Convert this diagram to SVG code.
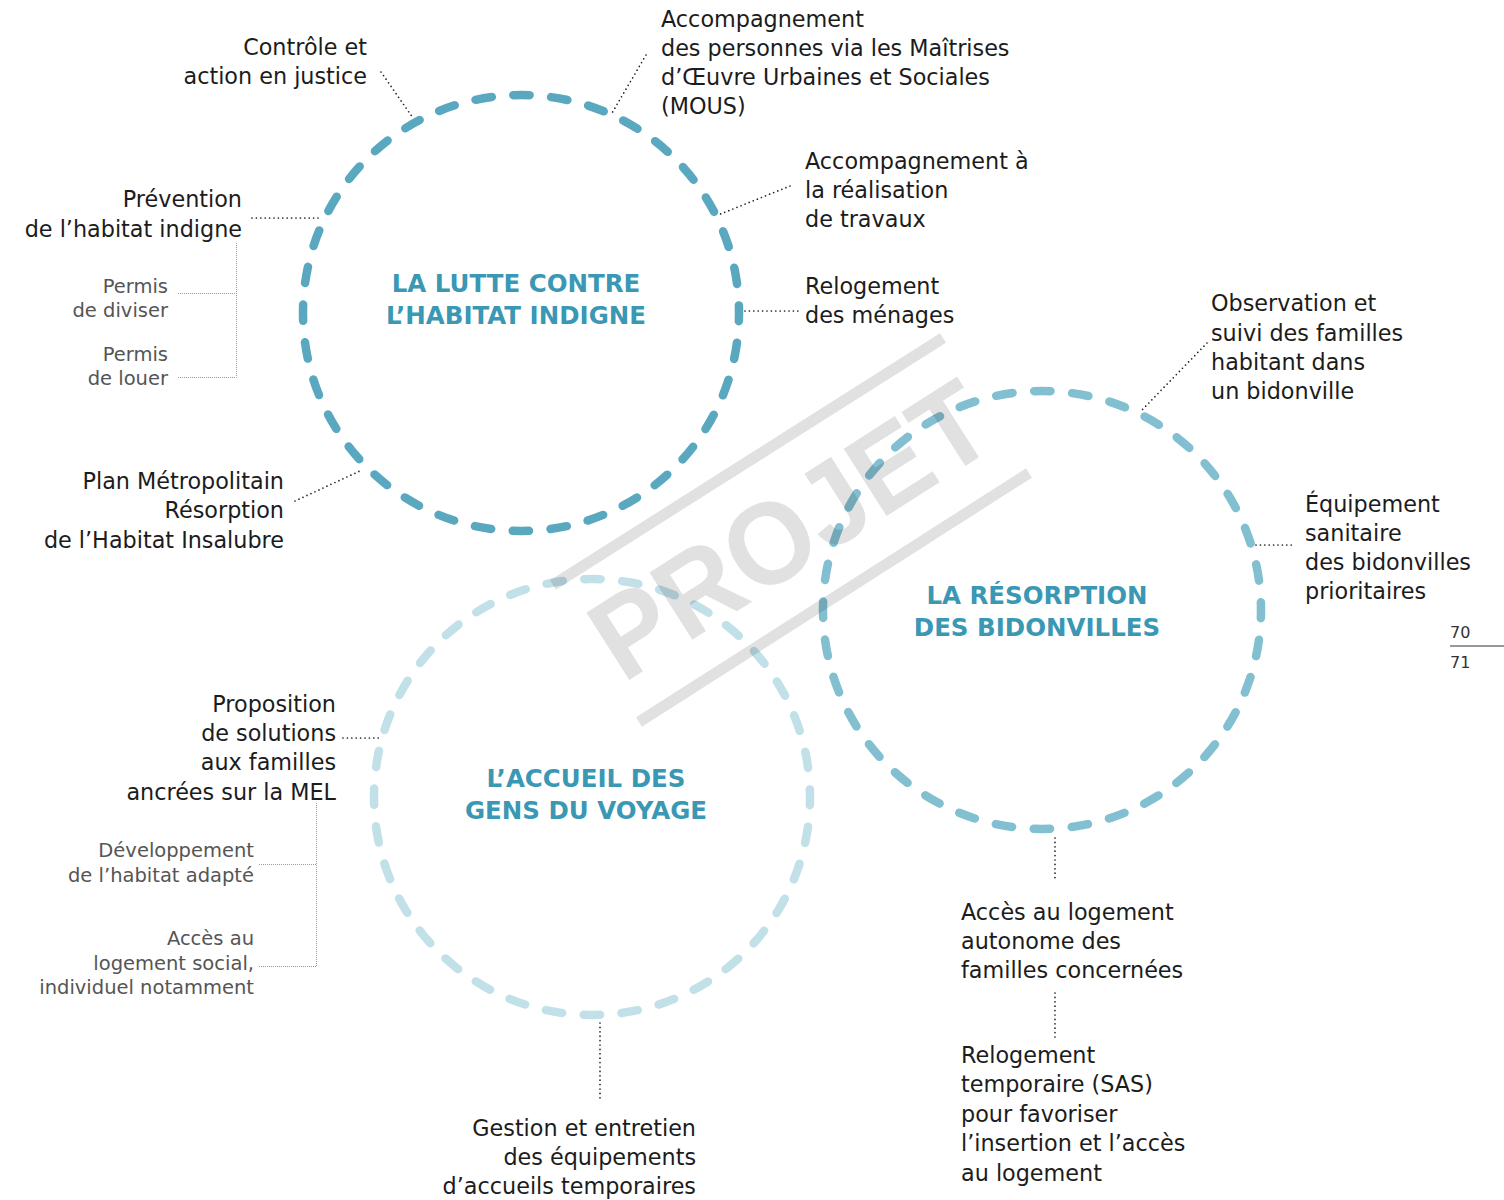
<svg xmlns="http://www.w3.org/2000/svg" width="1504" height="1200" viewBox="0 0 1504 1200">
<style>
.lbl{font-family:"DejaVu Sans","Liberation Sans",sans-serif;font-size:22.3px;fill:#1c1c1c}
.sm{font-family:"DejaVu Sans","Liberation Sans",sans-serif;font-size:19.5px;fill:#555555}
.ttl{font-family:"DejaVu Sans","Liberation Sans",sans-serif;font-size:24.5px;font-weight:bold;fill:#3A98B4;text-anchor:middle}
.pg{font-family:"DejaVu Sans","Liberation Sans",sans-serif;font-size:16px;fill:#333333}
.end{text-anchor:end}
.ring{fill:none;stroke-width:8.5;stroke-linecap:round;stroke-dashoffset:8.25}
.dot{fill:none;stroke:#222222;stroke-width:1.7;stroke-linecap:round;stroke-dasharray:0 4.4}
.brk{fill:none;stroke:#9a9a9a;stroke-width:1;stroke-dasharray:1 1}
</style>

<g id="node-lutte">
<circle class="ring" cx="521" cy="313" r="218" stroke="#5AA8C0" stroke-dasharray="16.5 21.55"/>
<text class="ttl" x="516" y="292">LA LUTTE CONTRE</text>
<text class="ttl" x="516" y="324">L’HABITAT INDIGNE</text>
</g>
<g id="node-resorption">
<circle class="ring" cx="1042" cy="610" r="219" stroke="#82BFD1" stroke-dasharray="16.5 21.72"/>
<text class="ttl" x="1037" y="604">LA RÉSORPTION</text>
<text class="ttl" x="1037" y="636">DES BIDONVILLES</text>
</g>
<g id="node-accueil">
<circle class="ring" cx="592" cy="797" r="218" stroke="#C2E0E8" stroke-dasharray="16.5 21.55"/>
<text class="ttl" x="586" y="787">L’ACCUEIL DES</text>
<text class="ttl" x="586" y="819">GENS DU VOYAGE</text>
</g>

<g id="connectors">
<line class="dot" x1="381" y1="72" x2="413" y2="118"/>
<line class="dot" x1="646" y1="55" x2="612" y2="113"/>
<line class="dot" x1="790" y1="186" x2="718" y2="215"/>
<line class="dot" x1="745" y1="311" x2="800" y2="311"/>
<line class="dot" x1="252" y1="218" x2="322" y2="218"/>
<line class="dot" x1="295" y1="501" x2="362" y2="470"/>
<line class="dot" x1="1207" y1="343" x2="1141" y2="411"/>
<line class="dot" x1="1256" y1="545" x2="1292" y2="545"/>
<line class="dot" x1="343" y1="738" x2="380" y2="738"/>
<line class="dot" x1="600" y1="1023" x2="600" y2="1100"/>
<line class="dot" x1="1055" y1="838" x2="1055" y2="882"/>
<line class="dot" x1="1055" y1="993" x2="1055" y2="1037"/>
<path class="brk" d="M236.5 243 V377.5 M178 293.5 H236.5 M178 377.5 H236.5"/>
<path class="brk" d="M316.5 803 V966.5 M259 864.5 H316.5 M259 966.5 H316.5"/>
</g>

<g id="label-controle">
<text class="lbl end" x="367" y="55">Contrôle et</text>
<text class="lbl end" x="367" y="84">action en justice</text>
</g>
<g id="label-mous">
<text class="lbl" x="661" y="27">Accompagnement</text>
<text class="lbl" x="661" y="56">des personnes via les Maîtrises</text>
<text class="lbl" x="661" y="85">d’Œuvre Urbaines et Sociales</text>
<text class="lbl" x="661" y="114">(MOUS)</text>
</g>
<g id="label-travaux">
<text class="lbl" x="805" y="169">Accompagnement à</text>
<text class="lbl" x="805" y="198">la réalisation</text>
<text class="lbl" x="805" y="227">de travaux</text>
</g>
<g id="label-relogement">
<text class="lbl" x="805" y="294">Relogement</text>
<text class="lbl" x="805" y="323">des ménages</text>
</g>
<g id="label-prevention">
<text class="lbl end" x="242" y="207">Prévention</text>
<text class="lbl end" x="242" y="237">de l’habitat indigne</text>
</g>
<g id="label-permis-diviser">
<text class="sm end" x="168" y="293">Permis</text>
<text class="sm end" x="168" y="317">de diviser</text>
</g>
<g id="label-permis-louer">
<text class="sm end" x="168" y="361">Permis</text>
<text class="sm end" x="168" y="385">de louer</text>
</g>
<g id="label-pmrhi">
<text class="lbl end" x="284" y="489">Plan Métropolitain</text>
<text class="lbl end" x="284" y="518">Résorption</text>
<text class="lbl end" x="284" y="548">de l’Habitat Insalubre</text>
</g>
<g id="label-observation">
<text class="lbl" x="1211" y="311">Observation et</text>
<text class="lbl" x="1211" y="341">suivi des familles</text>
<text class="lbl" x="1211" y="370">habitant dans</text>
<text class="lbl" x="1211" y="399">un bidonville</text>
</g>
<g id="label-equipement">
<text class="lbl" x="1305" y="512">Équipement</text>
<text class="lbl" x="1305" y="541">sanitaire</text>
<text class="lbl" x="1305" y="570">des bidonvilles</text>
<text class="lbl" x="1305" y="599">prioritaires</text>
</g>
<g id="label-proposition">
<text class="lbl end" x="336" y="712">Proposition</text>
<text class="lbl end" x="336" y="741">de solutions</text>
<text class="lbl end" x="336" y="770">aux familles</text>
<text class="lbl end" x="336" y="800">ancrées sur la MEL</text>
</g>
<g id="label-habitat-adapte">
<text class="sm end" x="254" y="857">Développement</text>
<text class="sm end" x="254" y="882">de l’habitat adapté</text>
</g>
<g id="label-logement-social">
<text class="sm end" x="254" y="945">Accès au</text>
<text class="sm end" x="254" y="970">logement social,</text>
<text class="sm end" x="254" y="994">individuel notamment</text>
</g>
<g id="label-gestion">
<text class="lbl end" x="696" y="1136">Gestion et entretien</text>
<text class="lbl end" x="696" y="1165">des équipements</text>
<text class="lbl end" x="696" y="1194">d’accueils temporaires</text>
</g>
<g id="label-acces-autonome">
<text class="lbl" x="961" y="920">Accès au logement</text>
<text class="lbl" x="961" y="949">autonome des</text>
<text class="lbl" x="961" y="978">familles concernées</text>
</g>
<g id="label-sas">
<text class="lbl" x="961" y="1063">Relogement</text>
<text class="lbl" x="961" y="1092">temporaire (SAS)</text>
<text class="lbl" x="961" y="1122">pour favoriser</text>
<text class="lbl" x="961" y="1151">l’insertion et l’accès</text>
<text class="lbl" x="961" y="1181">au logement</text>
</g>

<g id="page-number">
<text class="pg" x="1450" y="638">70</text>
<line x1="1450" y1="646" x2="1504" y2="646" stroke="#333333" stroke-width="1"/>
<text class="pg" x="1450" y="668">71</text>
</g>

<g id="watermark" opacity="0.115">
<line x1="553" y1="585" x2="943" y2="338" stroke="#000000" stroke-width="11"/>
<line x1="639" y1="722" x2="1029" y2="473" stroke="#000000" stroke-width="11"/>
<text transform="translate(790 529) rotate(-32.5)" x="0" y="41" text-anchor="middle" textLength="448" lengthAdjust="spacingAndGlyphs" font-family="'Liberation Sans',Arial,sans-serif" font-weight="bold" font-size="116" fill="#000000">PROJET</text>
</g>
</svg>
